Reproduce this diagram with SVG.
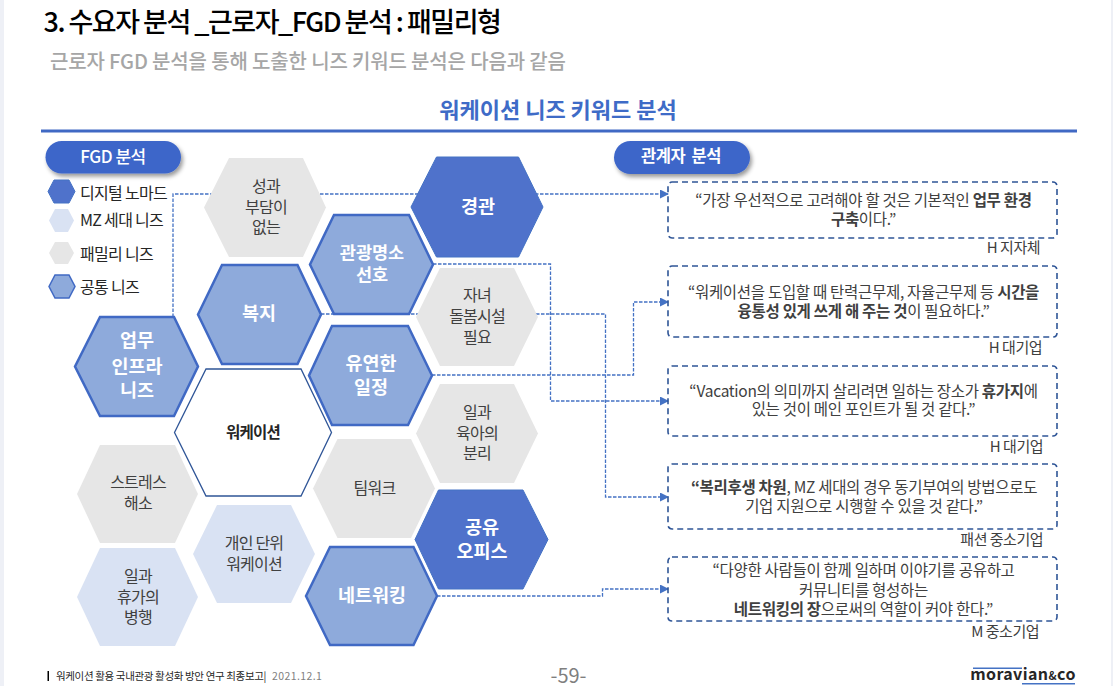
<svg xmlns="http://www.w3.org/2000/svg" width="1113" height="686" viewBox="0 0 1113 686">
<defs>
<filter id="sh" x="-10%" y="-20%" width="125%" height="160%"><feDropShadow dx="2" dy="3" stdDeviation="2" flood-color="#000" flood-opacity="0.4"/></filter>
<marker id="arr" viewBox="0 0 9 9" refX="8" refY="4.5" markerWidth="9" markerHeight="9" markerUnits="userSpaceOnUse" orient="auto"><path d="M0 0L9 4.5L0 9Z" fill="#4472c4"/></marker>
</defs>
<style>
text{font-family:"Noto Sans CJK KR","Noto Sans",sans-serif;text-anchor:middle}
.dark{fill:#4f72cb;stroke:#4472c4;stroke-width:1}
.mid{fill:#8eaadb;stroke:#4069c4;stroke-width:2.5}
.fam{fill:#e6e6e6}
.mz{fill:#d9e2f3}
.w{font-size:18.5px;font-weight:700;fill:#fff}
.g{font-size:16px;fill:#404040;letter-spacing:-0.8px}
.lg{font-size:16px;fill:#262626;text-anchor:start;letter-spacing:-0.7px}
.box{fill:none;stroke:#2f5597;stroke-width:1.6;stroke-dasharray:6 4}
.q{font-size:15.5px;fill:#404040;letter-spacing:-0.3px}
.q tspan{font-weight:700}
.src{font-size:15px;fill:#404040;letter-spacing:-0.5px;text-anchor:end}
.con{fill:none;stroke:#4472c4;stroke-width:1.3;stroke-dasharray:3.5 1.5}
</style>
<rect width="1113" height="686" fill="#fff"/>
<rect x="0" y="0" width="4" height="686" fill="#eef0f6"/>
<rect x="1111" y="0" width="2" height="686" fill="#eef0f6"/>
<text x="43.500" y="32" style="text-anchor:start;font-size:27px;font-weight:500;fill:#000;letter-spacing:-1.5px">3. 수요자 분석 _근로자_FGD 분석 : 패밀리형</text>
<text x="50" y="69" style="text-anchor:start;font-size:20px;font-weight:500;fill:#a6a6a6;letter-spacing:-0.15px">근로자 FGD 분석을 통해 도출한 니즈 키워드 분석은 다음과 같음</text>
<text x="558" y="118" style="font-size:22px;font-weight:700;fill:#3e6bc7">워케이션 니즈 키워드 분석</text>
<rect x="41" y="129.500" width="1036" height="3" fill="#4069c4"/>

<g id="connectors">
<path class="con" d="M173 317V194H668" marker-end="url(#arr)"/>
<path class="con" d="M433 264H550.500V401H668" marker-end="url(#arr)"/>
<path class="con" d="M321 314H605.500V497H668" marker-end="url(#arr)"/>
<path class="con" d="M432 375H633.500V302H668" marker-end="url(#arr)"/>
<path class="con" d="M437 596H602.500V589H668" marker-end="url(#arr)"/>
</g>

<g id="pill-fgd"><rect x="45.500" y="141" width="135.500" height="32.500" rx="16.250" fill="#3d66c9" filter="url(#sh)"/><text x="113" y="163" style="font-size:17px;font-weight:500;fill:#fff;letter-spacing:-0.5px">FGD 분석</text></g>
<g id="pill-stake"><rect x="614" y="141" width="136" height="33" rx="16.500" fill="#3d66c9" filter="url(#sh)"/><text x="681" y="162" style="font-size:16.500px;font-weight:700;fill:#fff;letter-spacing:-0.5px;white-space:pre">관계자  분석</text></g>

<g id="legend-digital"><polygon class="dark" points="48,191.500 54,180 69,180 75,191.500 69,203 54,203"/><text class="lg" x="80" y="199">디지털 노마드</text></g>
<g id="legend-mz"><polygon class="mz" points="49,220.500 55,209 68,209 74,220.500 68,232 55,232"/><text class="lg" x="80" y="226">MZ 세대 니즈</text></g>
<g id="legend-family"><polygon class="fam" points="49,253 55,242 68,242 74,253 68,264 55,264"/><text class="lg" x="80" y="260">패밀리 니즈</text></g>
<g id="legend-common"><polygon class="mid" style="stroke-width:1.500" points="49,286.500 55,275 69,275 75,286.500 69,298 55,298"/><text class="lg" x="80" y="293">공통 니즈</text></g>

<g id="n-seonggwa"><polygon class="fam" points="204,207.500 229,158 303,158 326,207.500 303,257 229,257"/><text class="g" x="266" y="192">성과</text><text class="g" x="266" y="213">부담이</text><text class="g" x="266" y="233">없는</text></g>
<g id="n-gyeonggwan"><polygon class="dark" points="411,207 436.500,157 518.500,157 543,207 518.500,257 436.500,257"/><text class="w" x="478" y="213">경관</text></g>
<g id="n-tour"><polygon class="mid" points="310,264.500 334,215 409,215 433,264.500 409,314 334,314"/><text class="w" style="font-size:17.500px" x="372" y="259">관광명소</text><text class="w" style="font-size:17.500px" x="372" y="281">선호</text></g>
<g id="n-child"><polygon class="fam" points="416,317 440,268 514,268 538,317 514,366 440,366"/><text class="g" x="477" y="301">자녀</text><text class="g" x="477" y="322">돌봄시설</text><text class="g" x="477" y="343">필요</text></g>
<g id="n-welfare"><polygon class="mid" points="198,314.500 222,265 297.500,265 321,314.500 297.500,364 222,364"/><text class="w" x="259" y="320">복지</text></g>
<g id="n-infra"><polygon class="mid" points="75,366.500 100,317 174,317 198,366.500 174,416 100,416"/><text class="w" x="137" y="347">업무</text><text class="w" x="137" y="373">인프라</text><text class="w" x="137" y="397">니즈</text></g>
<g id="n-flex"><polygon class="mid" points="309,375.500 332,326 408,326 432,375.500 408,425 332,425"/><text class="w" x="371" y="370">유연한</text><text class="w" x="371" y="394">일정</text></g>
<g id="n-center"><polygon points="174.500,432.500 206,369 301,369 331.500,432.500 301,496 206,496" fill="#fff" stroke="#2f5597" stroke-width="1.300"/><text x="253" y="438" style="font-size:15.500px;font-weight:700;fill:#262626;letter-spacing:-0.8px">워케이션</text></g>
<g id="n-parenting"><polygon class="fam" points="416,433.500 440,384 514,384 538,433.500 514,483 440,483"/><text class="g" x="477" y="418">일과</text><text class="g" x="477" y="439">육아의</text><text class="g" x="477" y="459">분리</text></g>
<g id="n-team"><polygon class="fam" points="313,488.500 337.500,439 411,439 435,488.500 411,538 337.500,538"/><text class="g" x="374.500" y="494">팀워크</text></g>
<g id="n-stress"><polygon class="fam" points="77,494 100,445 175,445 198,494 175,543 100,543"/><text class="g" x="138" y="488">스트레스</text><text class="g" x="138" y="509">해소</text></g>
<g id="n-office"><polygon class="dark" points="415,539.500 438.500,490 523,490 548,539.500 523,589 438.500,589"/><text class="w" x="482" y="534">공유</text><text class="w" x="482" y="558">오피스</text></g>
<g id="n-personal"><polygon class="mz" points="193,554 217,505 291,505 315,554 291,603 217,603"/><text class="g" x="254" y="549">개인 단위</text><text class="g" x="254" y="570">워케이션</text></g>
<g id="n-vacation"><polygon class="mz" points="77,597 100,548 175,548 198,597 175,646 100,646"/><text class="g" x="138" y="582">일과</text><text class="g" x="138" y="603">휴가의</text><text class="g" x="138" y="623">병행</text></g>
<g id="n-network"><polygon class="mid" points="306,596 330,547 413.500,547 437,596 413.500,645 330,645"/><text class="w" x="372" y="602">네트워킹</text></g>

<g id="q1"><rect class="box" x="668" y="182" width="389" height="56" rx="4"/><text class="q" x="863.500" y="205.500">“가장 우선적으로 고려해야 할 것은 기본적인 <tspan>업무 환경</tspan></text><text class="q" x="863.500" y="224.500"><tspan>구축</tspan>이다.”</text><text class="src" x="1040" y="253">H 지자체</text></g>
<g id="q2"><rect class="box" x="668" y="266" width="389" height="71" rx="4"/><text class="q" x="863.500" y="297.500">“워케이션을 도입할 때 탄력근무제, 자율근무제 등 <tspan>시간을</tspan></text><text class="q" x="863.500" y="316.500"><tspan>융통성 있게 쓰게 해 주는 것</tspan>이 필요하다.”</text><text class="src" x="1042" y="353">H 대기업</text></g>
<g id="q3"><rect class="box" x="668" y="366" width="389" height="70" rx="4"/><text class="q" x="863.500" y="396.500">“Vacation의 의미까지 살리려면 일하는 장소가 <tspan>휴가지</tspan>에</text><text class="q" x="863.500" y="415">있는 것이 메인 포인트가 될 것 같다.”</text><text class="src" x="1043" y="452">H 대기업</text></g>
<g id="q4"><rect class="box" x="668" y="464" width="389" height="65" rx="4"/><text class="q" x="864" y="492.500"><tspan>“복리후생 차원</tspan>, MZ 세대의 경우 동기부여의 방법으로도</text><text class="q" x="864" y="512">기업 지원으로 시행할 수 있을 것 같다.”</text><text class="src" x="1043" y="545">패션 중소기업</text></g>
<g id="q5"><rect class="box" x="668" y="557" width="389" height="64" rx="4"/><text class="q" x="863.500" y="575.500">“다양한 사람들이 함께 일하며 이야기를 공유하고</text><text class="q" x="863.500" y="595.500">커뮤니티를 형성하는</text><text class="q" x="863.500" y="614.500"><tspan>네트워킹의 장</tspan>으로써의 역할이 커야 한다.”</text><text class="src" x="1039" y="637">M 중소기업</text></g>

<rect x="47.500" y="671" width="1.500" height="10" fill="#000"/>
<text x="56" y="680" style="text-anchor:start;font-size:10.500px;fill:#262626;letter-spacing:-0.35px">워케이션 활용 국내관광 활성화 방안 연구 최종보고|</text>
<text x="272" y="680" style="text-anchor:start;font-size:10.500px;fill:#7f7f7f;letter-spacing:0.4px">2021.12.1</text>
<text x="568.500" y="683" style="font-size:20px;fill:#7f7f7f">-59-</text>
<text x="1023" y="680" style="font-size:16px;font-weight:700;fill:#262626;letter-spacing:0.4px">moravian<tspan style="font-size:11px">&amp;</tspan>co</text>
<rect x="973" y="667.500" width="49" height="1.500" fill="#4472c4"/>
<rect x="1022" y="683" width="53" height="1.500" fill="#4472c4"/>
</svg>
